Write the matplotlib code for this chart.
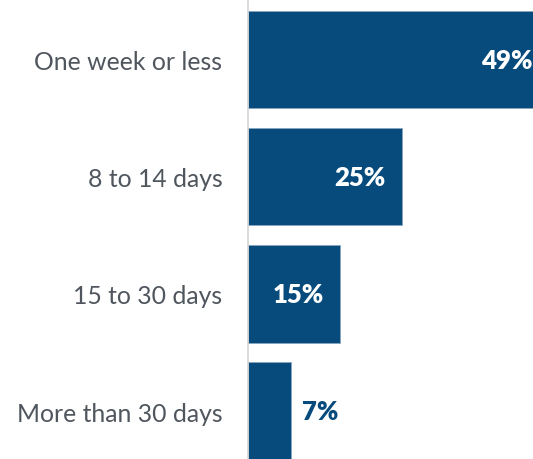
import matplotlib.pyplot as plt

categories = ["One week or less", "8 to 14 days", "15 to 30 days", "More than 30 days"]
shares = [49, 25, 15, 7]
value_labels = ["49%", "25%", "15%", "7%"]

bar_color = "#064b7b"
text_gray = "#50565e"

plt.rcParams['font.family'] = ['Lato', 'DejaVu Sans']

fig = plt.figure(figsize=(5.33, 4.6), dpi=100)
# axes start at the gray baseline; the longest bar runs past the right edge
ax = fig.add_axes([248 / 533, 0, 285 / 533, 1])

ypos = list(range(len(categories)))
ax.barh(ypos, shares, height=0.83, color=bar_color,
        edgecolor="#8aa6c0", linewidth=0.6)

ax.set_xlim(0, 285 / 6.15)
ax.set_ylim(3.41, -0.52)

ax.set_yticks(ypos)
ax.set_yticklabels(categories, fontsize=17.8, color=text_gray)
ax.tick_params(axis='y', length=0, pad=18.5)
ax.set_xticks([])

for side in ['top', 'right', 'bottom']:
    ax.spines[side].set_visible(False)
ax.spines['left'].set_color("#d4d4d4")
ax.spines['left'].set_linewidth(1.2)

# short bars get the label outside, the rest inside at the bar end
for y, v, lab in zip(ypos, shares, value_labels):
    if v >= 10:
        ax.annotate(lab, (v, y), xytext=(-12, 0), textcoords='offset points',
                    ha='right', va='center', fontsize=18.5, fontweight='heavy',
                    color='white', annotation_clip=False)
    else:
        ax.annotate(lab, (v, y), xytext=(8, 0), textcoords='offset points',
                    ha='left', va='center', fontsize=18.5, fontweight='heavy',
                    color=bar_color)

fig.savefig("out.png", dpi=100)
